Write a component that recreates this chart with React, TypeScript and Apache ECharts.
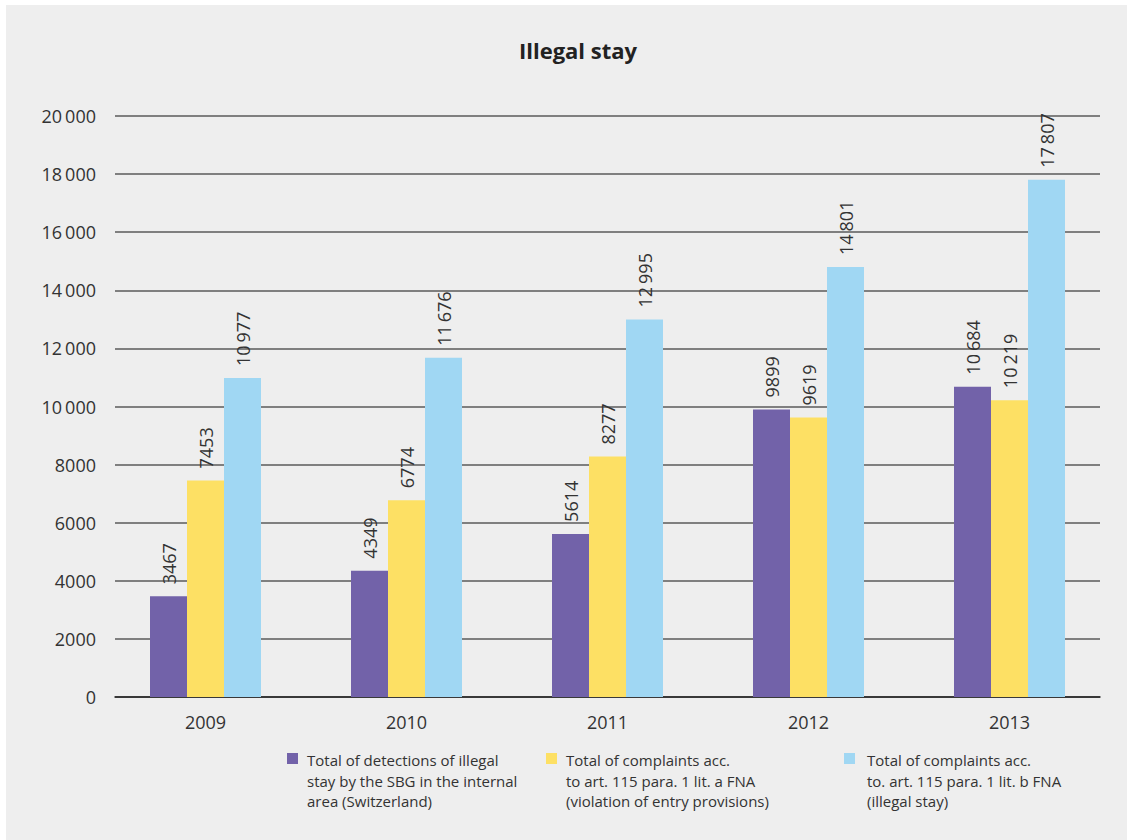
import React, { useEffect, useRef } from "react";
import * as echarts from "echarts";

const years = ["2009", "2010", "2011", "2012", "2013"];
const detections = [3467, 4349, 5614, 9899, 10684];
const entryViolations = [7453, 6774, 8277, 9619, 10219];
const illegalStay = [10977, 11676, 12995, 14801, 17807];
const seriesNames = [
  "Total of detections of illegal\nstay by the SBG in the internal\narea (Switzerland)",
  "Total of complaints acc.\nto art. 115 para. 1 lit. a FNA\n(violation of entry provisions)",
  "Total of complaints acc.\nto. art. 115 para. 1 lit. b FNA\n(illegal stay)",
];
const colors = ["#7262a9", "#fde064", "#a0d7f3"];
const yMin = 0;
const yMax = 20000;
const yInterval = 2000;

const FONT = "'Open Sans', 'Noto Sans', sans-serif";
const TEXT = "#333333";

const fmt = (v: number) => {
  const s = String(Math.round(v));
  if (v >= 10000) return s.slice(0, s.length - 3) + "\u2009" + s.slice(s.length - 3);
  return s;
};

export default function App() {
  const ref = useRef<HTMLDivElement>(null);
  useEffect(() => {
    if (!ref.current) return;
    const chart = echarts.init(ref.current, undefined, { renderer: "svg" });
    const dataSets = [detections, entryViolations, illegalStay];
    const legendX = [281, 540, 838];
    const option: any = {
      animation: false,
      textStyle: { fontFamily: FONT },
      title: {
        text: "Illegal stay",
        left: 567,
        top: 29,
        textAlign: "center",
        textStyle: { fontFamily: FONT, fontSize: 22, fontWeight: "bold", color: "#222" },
      },
      grid: [
        { left: 109, right: 27, top: 111, bottom: 143 },
        { left: 99, right: 17, top: 111, bottom: 143 },
      ],
      xAxis: [
        {
          gridIndex: 0,
          type: "value",
          min: 0,
          max: 1,
          axisLine: { show: true, lineStyle: { color: "#222", width: 1.5 } },
          axisTick: { show: false },
          axisLabel: { show: false },
          splitLine: { show: false },
        },
        {
          gridIndex: 1,
          type: "category",
          data: years,
          axisLine: { show: false },
          axisTick: { show: false },
          axisLabel: { fontFamily: FONT, fontSize: 18, color: TEXT, margin: 16 },
        },
      ],
      yAxis: [
        {
          gridIndex: 0,
          type: "value",
          min: yMin,
          max: yMax,
          interval: yInterval,
          axisLine: { show: false },
          axisTick: { show: false },
          axisLabel: {
            fontFamily: FONT,
            fontSize: 18,
            color: TEXT,
            margin: 19,
            formatter: (v: number) => fmt(v),
          },
          splitLine: { show: true, lineStyle: { color: "#5a5a5a", width: 1.5 } },
        },
        {
          gridIndex: 1,
          type: "value",
          min: yMin,
          max: yMax,
          show: false,
          splitLine: { show: false },
        },
      ],
      series: [
        {
          type: "line",
          xAxisIndex: 0,
          yAxisIndex: 0,
          data: [],
          silent: true,
        },
        ...dataSets.map((d, i) => ({
          type: "bar",
          name: seriesNames[i],
          xAxisIndex: 1,
          yAxisIndex: 1,
          data: d,
          barWidth: 37,
          barGap: "0%",
          itemStyle: { color: colors[i] },
          label: {
            show: true,
            position: "top",
            distance: 12,
            rotate: 90,
            align: "left",
            verticalAlign: "middle",
            fontFamily: FONT,
            fontSize: 18,
            color: TEXT,
            formatter: (p: any) => fmt(p.value),
          },
        })),
      ],
      graphic: seriesNames.flatMap((n, i) => [
        {
          type: "rect",
          left: legendX[i],
          top: 748,
          shape: { width: 11, height: 11 },
          style: { fill: colors[i] },
        },
        {
          type: "text",
          left: legendX[i] + 20 + (i === 2 ? 3 : 0),
          top: 745,
          style: {
            text: n,
            fontFamily: FONT,
            fontSize: 15,
            lineHeight: 20.5,
            fill: TEXT,
          },
        },
      ]),
    };
    chart.setOption(option);
    return () => chart.dispose();
  }, []);
  return (
    <div
      style={{
        position: "absolute",
        left: 0,
        top: 0,
        width: 1127,
        height: 840,
        background: "#ffffff",
      }}
    >
      <div
        ref={ref}
        style={{
          position: "absolute",
          left: 6,
          top: 5,
          width: 1121,
          height: 835,
          background: "#eeeeee",
        }}
      />
    </div>
  );
}
